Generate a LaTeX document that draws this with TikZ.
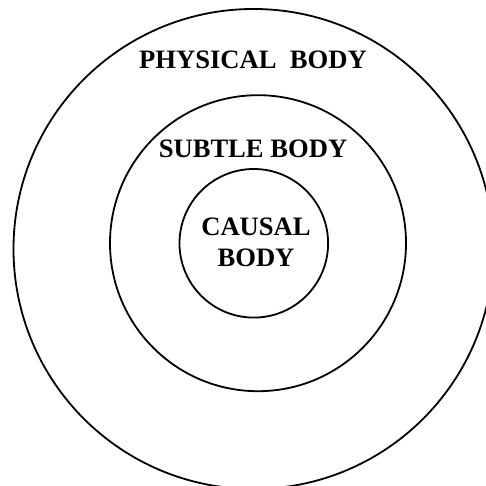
\documentclass[tikz,border=0pt]{standalone}
\usepackage{fontspec}
\setmainfont{Liberation Serif}
\begin{document}
\begin{tikzpicture}[x=1pt,y=1pt,
  ring/.style={circle,draw=black,line width=1.8pt,inner sep=0pt,outer sep=0pt},
  lbl/.style={font=\fontsize{26.6}{30.7}\selectfont\bfseries,inner sep=0pt}]
\useasboundingbox (0,0) rectangle (486,486);
\clip (0,0) rectangle (486,486);
\fill[white] (0,0) rectangle (486,486);
\node[ring,minimum size=480pt] (outer) at (253.5,237) {};
\node[ring,minimum size=296pt] (middle) at (258,242.8) {};
\node[ring,minimum size=148.6pt] (inner) at (253.8,242.7) {};
\node[lbl,anchor=base] (phys) at (253,417) {PHYSICAL\ \ BODY};
\node[lbl,anchor=base] (subtle) at (253,328.7) {SUBTLE BODY};
\node[lbl,align=center] (causal) at (256,243.6) {CAUSAL\\BODY};
\end{tikzpicture}
\end{document}
